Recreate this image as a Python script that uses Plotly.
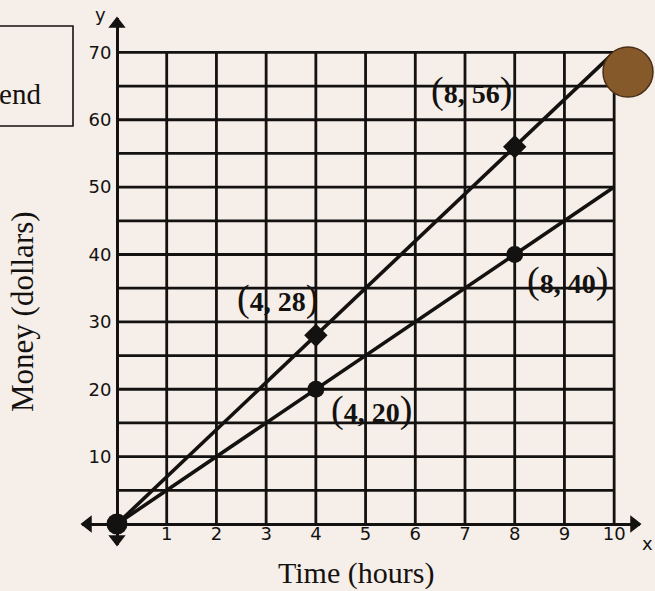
import plotly.graph_objects as go

# ---- data ----
hours = [0, 4, 8, 10]
money_top = [0, 28, 56, 70]
money_bottom = [0, 20, 40, 50]
pt_hours = [4, 8]
pt_top = [28, 56]
pt_bottom = [20, 40]
pt_top_labels = ["4, 28", "8, 56"]
pt_bottom_labels = ["4, 20", "8, 40"]
x_ticks = [1, 2, 3, 4, 5, 6, 7, 8, 9, 10]
y_ticks = [10, 20, 30, 40, 50, 60, 70]
x_grid = [1, 2, 3, 4, 5, 6, 7, 8, 9, 10]
y_grid = [5, 10, 15, 20, 25, 30, 35, 40, 45, 50, 55, 60, 65, 70]

XMIN, XMAX = -0.704, 10.52
YMIN, YMAX = -3.12, 75.1
GRID_X_MAX = 10
GRID_Y_MAX = 70

BG = "#f6eee8"
INK = "#141210"

L, R, T, B = 82, 15, 18, 46
W, H = 655, 591
PW, PH = W - L - R, H - T - B


def px_x(p):
    return (p - L) / PW


def px_y(p):
    return (H - B - p) / PH


fig = go.Figure()

# lines
fig.add_trace(go.Scatter(x=hours, y=money_top, mode="lines",
                         line=dict(color=INK, width=3.6), showlegend=False,
                         hoverinfo="skip"))
fig.add_trace(go.Scatter(x=hours, y=money_bottom, mode="lines",
                         line=dict(color=INK, width=3.6), showlegend=False,
                         hoverinfo="skip"))
# markers
fig.add_trace(go.Scatter(x=pt_hours, y=pt_top, mode="markers",
                         marker=dict(symbol="diamond", size=18, color=INK),
                         showlegend=False, cliponaxis=False))
fig.add_trace(go.Scatter(x=pt_hours, y=pt_bottom, mode="markers",
                         marker=dict(symbol="circle", size=17, color=INK),
                         showlegend=False, cliponaxis=False))
fig.add_trace(go.Scatter(x=hours[:1], y=money_top[:1], mode="markers",
                         marker=dict(symbol="circle", size=21, color=INK),
                         showlegend=False, cliponaxis=False))
# axis arrowheads
fig.add_trace(go.Scatter(x=[XMIN + 0.12, XMAX - 0.12, 0, 0],
                         y=[0, 0, YMAX - 0.9, YMIN + 0.9], mode="markers",
                         marker=dict(symbol=["triangle-left", "triangle-right",
                                             "triangle-up", "triangle-down"],
                                     size=15, color=INK),
                         showlegend=False, cliponaxis=False, hoverinfo="skip"))

shapes = []
for v in x_grid:
    shapes.append(dict(type="line", xref="x", yref="y", x0=v, x1=v, y0=0,
                       y1=GRID_Y_MAX, line=dict(color=INK, width=2.8), layer="below"))
for v in y_grid:
    shapes.append(dict(type="line", xref="x", yref="y", x0=0, x1=GRID_X_MAX,
                       y0=v, y1=v, line=dict(color=INK, width=2.8), layer="below"))
# partially visible legend box at the left edge
shapes.append(dict(type="rect", xref="paper", yref="paper", x0=px_x(-20), x1=px_x(73),
                   y0=px_y(126), y1=px_y(26), line=dict(color=INK, width=1.6),
                   fillcolor="rgba(0,0,0,0)"))
# coin in the photo
shapes.append(dict(type="circle", xref="paper", yref="paper",
                   x0=px_x(603), x1=px_x(653), y0=px_y(97), y1=px_y(47),
                   line=dict(color="#4a2f16", width=1.5), fillcolor="#85592a"))

annotations = []
lab_font = dict(family="Liberation Serif", size=28, color=INK)
paren = "<span style='font-size:38px;font-weight:normal'>%s</span>"


def lab(t):
    return paren % "(" + "<b>" + t + "</b>" + paren % ")"


offs_top = [(-38, 37), (-43, 56)]
offs_bot = [(56, -20), (53, -26)]
for xv, yv, t, (dx, dy) in zip(pt_hours, pt_top, pt_top_labels, offs_top):
    annotations.append(dict(x=xv, y=yv, xref="x", yref="y", text=lab(t),
                            showarrow=False, xshift=dx, yshift=dy, font=lab_font))
for xv, yv, t, (dx, dy) in zip(pt_hours, pt_bottom, pt_bottom_labels, offs_bot):
    annotations.append(dict(x=xv, y=yv, xref="x", yref="y", text=lab(t),
                            showarrow=False, xshift=dx, yshift=dy, font=lab_font))

annotations += [
    dict(text="Time (hours)", xref="paper", yref="paper", x=px_x(356),
         y=px_y(573), xanchor="center", yanchor="middle", showarrow=False,
         font=dict(family="Liberation Serif", size=30, color=INK)),
    dict(text="Money (dollars)", xref="paper", yref="paper", x=px_x(22),
         y=px_y(312), xanchor="center", yanchor="middle", showarrow=False,
         textangle=-90,
         font=dict(family="Liberation Serif", size=31, color=INK)),
    dict(text="x", xref="paper", yref="paper", x=px_x(647),
         y=px_y(543), xanchor="center", yanchor="middle", showarrow=False,
         font=dict(family="DejaVu Sans", size=18, color=INK)),
    dict(text="y", xref="paper", yref="paper", x=px_x(100),
         y=px_y(14), xanchor="center", yanchor="middle", showarrow=False,
         font=dict(family="DejaVu Sans", size=18, color=INK)),
    dict(text="Legend", xref="paper", yref="paper", x=px_x(43),
         y=px_y(94), xanchor="right", yanchor="middle", showarrow=False,
         font=dict(family="Liberation Serif", size=29, color=INK)),
]

fig.update_layout(
    width=W, height=H,
    margin=dict(l=L, r=R, t=T, b=B),
    paper_bgcolor=BG, plot_bgcolor=BG,
    shapes=shapes, annotations=annotations,
    showlegend=False,
    xaxis=dict(range=[XMIN, XMAX], showgrid=False, zeroline=False,
               showline=True, linecolor=INK, linewidth=3,
               anchor="free", position=(0 - YMIN) / (YMAX - YMIN),
               tickvals=x_ticks, ticks="", ticklabelstandoff=-8,
               tickfont=dict(family="DejaVu Sans", size=18, color=INK)),
    yaxis=dict(range=[YMIN, YMAX], showgrid=False, zeroline=False,
               showline=True, linecolor=INK, linewidth=3,
               anchor="free", position=(0 - XMIN) / (XMAX - XMIN),
               tickvals=y_ticks, ticks="", ticklabelstandoff=1,
               tickfont=dict(family="DejaVu Sans", size=18, color=INK)),
)

fig.write_html("out.html",
               config={"displayModeBar": False},
               post_script="document.body.style.margin='0';"
                           "document.body.style.background='%s';" % BG)
